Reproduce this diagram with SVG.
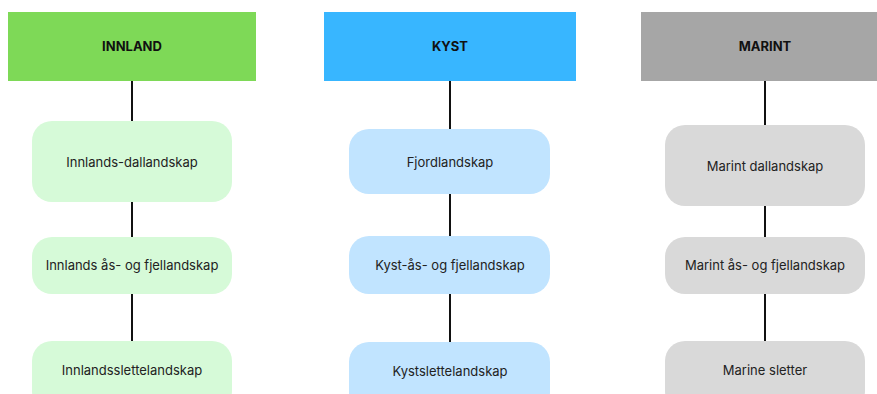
<svg xmlns="http://www.w3.org/2000/svg" width="877" height="394" viewBox="0 0 877 394">
<style>
.h{font-family:Inter,"Noto Sans","Liberation Sans",sans-serif;font-size:13px;font-weight:700;fill:#111;text-anchor:middle;dominant-baseline:central}
.t{font-family:Inter,"Noto Sans","Liberation Sans",sans-serif;font-size:13px;fill:#222;text-anchor:middle;dominant-baseline:central}
.c line{stroke:#111;stroke-width:2}
.g{fill:#d6fad8}.b{fill:#c1e4ff}.r{fill:#d9d9d9}
</style>
<rect width="877" height="394" fill="#fff"/>
<g class="c" id="connectors">
<line x1="132" y1="80" x2="132" y2="122"/>
<line x1="132" y1="202" x2="132" y2="237"/>
<line x1="132" y1="294" x2="132" y2="342"/>
<line x1="450" y1="80" x2="450" y2="130"/>
<line x1="450" y1="194" x2="450" y2="237"/>
<line x1="450" y1="293" x2="450" y2="342"/>
<line x1="765" y1="80" x2="765" y2="126"/>
<line x1="765" y1="206" x2="765" y2="237"/>
<line x1="765" y1="294" x2="765" y2="342"/>
</g>
<g id="innland"><rect x="8" y="12" width="248" height="69" fill="#7ed957"/><text class="h" x="132" y="46">INNLAND</text></g>
<g id="kyst"><rect x="324" y="12" width="252" height="69" fill="#38b6ff"/><text class="h" x="450" y="46">KYST</text></g>
<g id="marint"><rect x="641" y="12" width="248" height="69" fill="#a6a6a6"/><text class="h" x="765" y="46">MARINT</text></g>
<g id="innlands-dallandskap"><rect class="g" x="32" y="121" width="200" height="81" rx="20"/><text class="t" x="132" y="162">Innlands-dallandskap</text></g>
<g id="innlands-as"><rect class="g" x="32" y="237" width="200" height="57" rx="20"/><text class="t" x="132" y="265">Innlands ås- og fjellandskap</text></g>
<g id="innlandsslette"><rect class="g" x="32" y="341" width="200" height="70" rx="20"/><text class="t" x="132" y="370">Innlandsslettelandskap</text></g>
<g id="fjord"><rect class="b" x="349" y="129" width="201" height="65" rx="20"/><text class="t" x="450" y="162">Fjordlandskap</text></g>
<g id="kyst-as"><rect class="b" x="349" y="236" width="201" height="58" rx="20"/><text class="t" x="450" y="265">Kyst-ås- og fjellandskap</text></g>
<g id="kystslette"><rect class="b" x="349" y="342" width="201" height="70" rx="20"/><text class="t" x="450" y="371">Kystslettelandskap</text></g>
<g id="marint-dal"><rect class="r" x="665" y="125" width="200" height="81" rx="20"/><text class="t" x="765" y="166">Marint dallandskap</text></g>
<g id="marint-as"><rect class="r" x="665" y="237" width="200" height="57" rx="20"/><text class="t" x="765" y="265">Marint ås- og fjellandskap</text></g>
<g id="marine-sletter"><rect class="r" x="665" y="341" width="200" height="70" rx="20"/><text class="t" x="765" y="370">Marine sletter</text></g>
</svg>
